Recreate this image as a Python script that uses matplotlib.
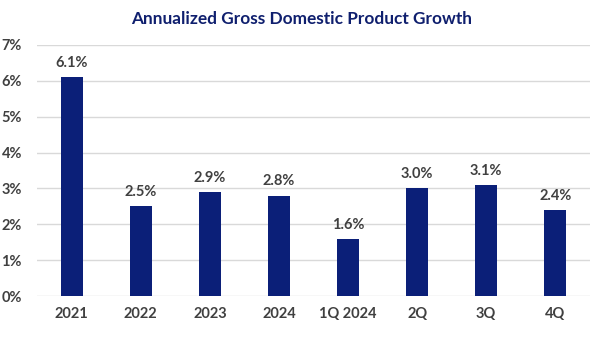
import matplotlib
matplotlib.use('Agg')
import matplotlib.pyplot as plt
import numpy as np

categories = ['2021', '2022', '2023', '2024', '1Q 2024', '2Q', '3Q', '4Q']
growth = [6.1, 2.5, 2.9, 2.8, 1.6, 3.0, 3.1, 2.4]
yticks = [0, 1, 2, 3, 4, 5, 6, 7]

BAR = '#0b1f78'
TEXT = '#404040'

plt.rcParams['font.family'] = ['Lato', 'DejaVu Sans']

fig = plt.figure(figsize=(6, 3.38), dpi=100, facecolor='white')
ax = fig.add_axes([0.062, 0.124, 0.921, 0.743])

x = np.arange(len(categories))
ax.bar(x, growth, width=0.32, color=BAR, zorder=3)

for xi, v in zip(x, growth):
    ax.text(xi, v + 0.2, f'{v:.1f}%', ha='center', va='bottom',
            fontsize=10.5, fontweight='bold', color=TEXT)

ax.set_xlim(-0.5, len(categories) - 0.5)
ax.set_ylim(0, 7)
ax.set_yticks(yticks)
ax.set_yticklabels([f'{t}%' for t in yticks])
ax.set_xticks(x)
ax.set_xticklabels(categories)
ax.tick_params(axis='both', length=0, labelsize=10.5, colors=TEXT)
ax.tick_params(axis='x', pad=8)
ax.tick_params(axis='y', pad=11)
for lab in ax.get_xticklabels() + ax.get_yticklabels():
    lab.set_fontweight('bold')

ax.grid(axis='y', color='#d9d9d9', linewidth=1, zorder=0)
for s in ax.spines.values():
    s.set_visible(False)

fig.text(0.502, 0.945, 'Annualized Gross Domestic Product Growth', ha='center', va='center',
         fontsize=12.4, fontweight='bold', color='#0f1f6e')

plt.savefig('out.png', dpi=100, facecolor='white')
